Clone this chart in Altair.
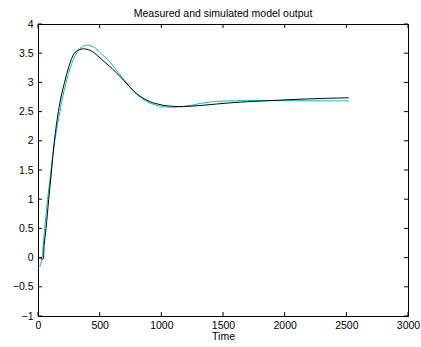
import altair as alt
import pandas as pd

# Simulated model output (black)
black_t = [0, 20, 38, 50, 65, 87, 110, 133, 165, 190, 215, 250, 295, 330, 368,
           422, 460, 503, 550, 600, 665, 719, 773, 830, 908, 1000, 1044, 1100,
           1178, 1290, 1400, 1500, 1700, 1900, 2100, 2300, 2520]
black_y = [0.0, -0.01, -0.03, 0.22, 0.5, 1.0, 1.5, 2.0, 2.5, 2.78, 3.0, 3.27, 3.5,
           3.555, 3.575, 3.55, 3.5, 3.42, 3.33, 3.24, 3.10, 2.98, 2.86, 2.76, 2.67,
           2.615, 2.60, 2.59, 2.587, 2.60, 2.62, 2.64, 2.67, 2.69, 2.71, 2.725, 2.736]

# Measured output (cyan)
cyan_t = [0, 16, 32, 54, 78, 100, 120, 140, 178, 200, 228, 270, 313, 350, 395,
          430, 470, 503, 580, 650, 720, 773, 830, 908, 990, 1044, 1100, 1178,
          1250, 1314, 1400, 1500, 1600, 1700, 1900, 2100, 2300, 2520]
cyan_y = [-0.175, -0.15, 0.0, 0.5, 1.0, 1.4, 1.75, 2.05, 2.5, 2.75, 3.0, 3.3, 3.5,
          3.6, 3.64, 3.625, 3.58, 3.51, 3.36, 3.17, 2.99, 2.85, 2.745, 2.645, 2.595,
          2.578, 2.575, 2.587, 2.61, 2.64, 2.665, 2.68, 2.685, 2.69, 2.688, 2.686,
          2.685, 2.685]

x_ticks = [0, 500, 1000, 1500, 2000, 2500, 3000]
y_ticks = [-1, -0.5, 0, 0.5, 1, 1.5, 2, 2.5, 3, 3.5, 4]

FONT = "Liberation Sans"
FS = 10.5

black_df = pd.DataFrame({"t": black_t, "y": black_y})
cyan_df = pd.DataFrame({"t": cyan_t, "y": cyan_y})
xt_df = pd.DataFrame({"v": x_ticks})
yt_df = pd.DataFrame({"v": y_ticks})

xs = alt.Scale(domain=[0, 3000], nice=False, zero=False)
ys = alt.Scale(domain=[-1, 4], nice=False, zero=False)

x_axis = alt.Axis(values=x_ticks, format="d", ticks=False, grid=False, title="Time",
                  labelFontSize=FS, titleFontSize=FS, titleFontWeight="normal",
                  labelFont=FONT, titleFont=FONT, labelPadding=4, titlePadding=1,
                  domainColor="black", labelColor="black", titleColor="black",
                  labelFlush=False, labelOverlap=False)
y_axis = alt.Axis(values=y_ticks, format="~g", ticks=False, grid=False, title=None,
                  labelFontSize=FS, labelFont=FONT, labelPadding=5,
                  domainColor="black", labelColor="black",
                  labelFlush=False, labelOverlap=False)

X = lambda f: alt.X(f, type="quantitative", scale=xs, axis=x_axis)
Y = lambda f: alt.Y(f, type="quantitative", scale=ys, axis=y_axis)

cyan = alt.Chart(cyan_df).mark_line(color="#00bfbf", strokeWidth=1,
                                    interpolate="catmull-rom").encode(x=X("t"), y=Y("y"))
black = alt.Chart(black_df).mark_line(color="black", strokeWidth=1,
                                      interpolate="catmull-rom").encode(x=X("t"), y=Y("y"))

tick_len = 4
bottom_ticks = alt.Chart(xt_df).mark_rule(color="black", strokeWidth=1, y2Offset=-tick_len).encode(
    x=X("v"), y=alt.YDatum(-1, scale=ys, axis=y_axis), y2=alt.datum(-1))
top_ticks = alt.Chart(xt_df).mark_rule(color="black", strokeWidth=1, y2Offset=tick_len).encode(
    x=X("v"), y=alt.YDatum(4, scale=ys, axis=y_axis), y2=alt.datum(4))
left_ticks = alt.Chart(yt_df).mark_rule(color="black", strokeWidth=1, x2Offset=tick_len).encode(
    y=Y("v"), x=alt.XDatum(0, scale=xs, axis=x_axis), x2=alt.datum(0))
right_ticks = alt.Chart(yt_df).mark_rule(color="black", strokeWidth=1, x2Offset=-tick_len).encode(
    y=Y("v"), x=alt.XDatum(3000, scale=xs, axis=x_axis), x2=alt.datum(3000))

chart = alt.layer(cyan, black, bottom_ticks, top_ticks, left_ticks, right_ticks).properties(
    width=370, height=292,
    title=alt.TitleParams("Measured and simulated model output", fontSize=FS,
                          fontWeight="normal", font=FONT, color="black",
                          anchor="middle", offset=4, dy=4),
    autosize=alt.AutoSizeParams(type="none"),
    padding={"left": 38, "top": 24, "right": 13, "bottom": 31},
    background="white",
).configure_view(stroke="black", strokeWidth=1)

chart.save("out.html", embed_options={"renderer": "svg", "actions": False})
